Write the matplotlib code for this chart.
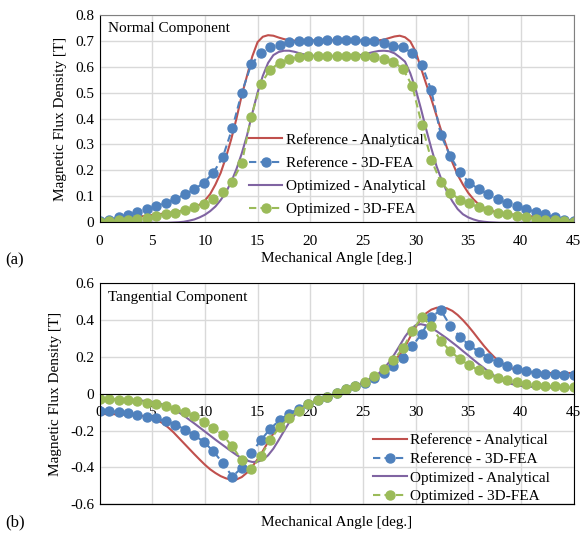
import numpy as np
import matplotlib
matplotlib.use("Agg")
import matplotlib.pyplot as plt
from matplotlib.ticker import FuncFormatter

plt.rcParams["font.family"] = ["Liberation Serif", "DejaVu Serif"]
plt.rcParams["font.size"] = 11
plt.rcParams["axes.unicode_minus"] = False

# -----------------------------
# Data
# -----------------------------
ang_an = np.linspace(0, 45, 91)    # analytical curves, 0.5 deg step
ang_fea = np.linspace(0, 45, 51)   # 3D-FEA points, 0.9 deg step

norm_ref_an = [
    0.006, 0.008, 0.010, 0.012, 0.014, 0.016, 0.018, 0.020, 0.022, 0.025,
    0.027, 0.030, 0.032, 0.035, 0.038, 0.041, 0.045, 0.050, 0.057, 0.067,
    0.083, 0.108, 0.145, 0.190, 0.250, 0.320, 0.400, 0.490, 0.565, 0.640,
    0.695, 0.716, 0.722, 0.720, 0.713, 0.707, 0.703, 0.701, 0.701, 0.701,
    0.702, 0.702, 0.703, 0.703, 0.703, 0.703, 0.703, 0.703, 0.702, 0.702,
    0.701, 0.701, 0.701, 0.702, 0.705, 0.711, 0.717, 0.720, 0.714, 0.698,
    0.660, 0.597, 0.535, 0.475, 0.410, 0.345, 0.285, 0.230, 0.182, 0.145,
    0.113, 0.088, 0.068, 0.055, 0.046, 0.040, 0.036, 0.033, 0.030, 0.028,
    0.026, 0.024, 0.022, 0.020, 0.018, 0.016, 0.014, 0.012, 0.010, 0.008,
    0.006]

norm_opt_an = [
    0.000, 0.000, 0.000, 0.000, 0.000, -0.001, -0.001, -0.002, -0.002, -0.003,
    -0.003, -0.003, -0.003, -0.003, -0.002, -0.001, 0.001, 0.005, 0.010, 0.018,
    0.028, 0.042, 0.060, 0.085, 0.115, 0.155, 0.205, 0.265, 0.335, 0.420,
    0.500, 0.565, 0.615, 0.645, 0.657, 0.662, 0.662, 0.658, 0.652, 0.647,
    0.644, 0.642, 0.641, 0.641, 0.641, 0.641, 0.641, 0.641, 0.642, 0.644,
    0.647, 0.652, 0.657, 0.661, 0.662, 0.660, 0.652, 0.637, 0.620, 0.575,
    0.515, 0.440, 0.360, 0.285, 0.215, 0.160, 0.116, 0.080, 0.050, 0.030,
    0.018, 0.010, 0.004, 0.001, -0.001, -0.002, -0.003, -0.003, -0.003, -0.003,
    -0.003, -0.002, -0.002, -0.001, -0.001, 0.000, 0.000, 0.000, 0.000, 0.000,
    0.000]

norm_ref_fea = [
    0.005, 0.008, 0.018, 0.028, 0.039, 0.049, 0.062, 0.075, 0.089, 0.107,
    0.126, 0.152, 0.190, 0.251, 0.362, 0.500, 0.609, 0.652, 0.676, 0.686,
    0.694, 0.698, 0.700, 0.701, 0.703, 0.703, 0.703, 0.702, 0.700, 0.698,
    0.692, 0.682, 0.676, 0.652, 0.608, 0.509, 0.337, 0.255, 0.192, 0.152,
    0.127, 0.107, 0.089, 0.075, 0.062, 0.049, 0.040, 0.030, 0.018, 0.008,
    0.005]

norm_opt_fea = [
    0.000, 0.005, 0.006, 0.009, 0.012, 0.017, 0.023, 0.030, 0.036, 0.045,
    0.057, 0.071, 0.088, 0.116, 0.156, 0.227, 0.407, 0.533, 0.589, 0.616,
    0.629, 0.637, 0.640, 0.642, 0.642, 0.643, 0.642, 0.642, 0.640, 0.637,
    0.631, 0.619, 0.592, 0.525, 0.375, 0.240, 0.154, 0.114, 0.086, 0.072,
    0.057, 0.045, 0.036, 0.030, 0.023, 0.018, 0.013, 0.009, 0.006, 0.004,
    0.000]

tang_ref_an = [
    -0.110, -0.110, -0.110, -0.111, -0.112, -0.113, -0.115, -0.117, -0.120, -0.124,
    -0.131, -0.143, -0.160, -0.182, -0.208, -0.238, -0.268, -0.298, -0.328, -0.357,
    -0.385, -0.410, -0.430, -0.447, -0.459, -0.466, -0.465, -0.452, -0.428, -0.395,
    -0.355, -0.310, -0.262, -0.215, -0.174, -0.140, -0.114, -0.095, -0.080, -0.066,
    -0.053, -0.041, -0.030, -0.019, -0.008, 0.003, 0.014, 0.025, 0.036, 0.048,
    0.060, 0.074, 0.090, 0.108, 0.128, 0.150, 0.178, 0.212, 0.255, 0.310,
    0.360, 0.405, 0.437, 0.457, 0.467, 0.469, 0.464, 0.450, 0.428, 0.400,
    0.368, 0.333, 0.296, 0.260, 0.227, 0.198, 0.174, 0.155, 0.141, 0.131,
    0.124, 0.119, 0.116, 0.114, 0.113, 0.113, 0.113, 0.113, 0.113, 0.113,
    0.113]

tang_opt_an = [
    -0.030, -0.030, -0.030, -0.031, -0.031, -0.032, -0.033, -0.035, -0.037, -0.040,
    -0.044, -0.050, -0.058, -0.069, -0.083, -0.100, -0.119, -0.140, -0.161, -0.183,
    -0.205, -0.227, -0.249, -0.270, -0.291, -0.312, -0.332, -0.350, -0.363, -0.370,
    -0.369, -0.358, -0.334, -0.298, -0.252, -0.203, -0.156, -0.117, -0.088, -0.067,
    -0.050, -0.038, -0.027, -0.017, -0.007, 0.003, 0.014, 0.025, 0.036, 0.048,
    0.060, 0.074, 0.090, 0.110, 0.137, 0.172, 0.215, 0.262, 0.310, 0.348,
    0.372, 0.378, 0.372, 0.358, 0.340, 0.320, 0.300, 0.278, 0.256, 0.232,
    0.209, 0.185, 0.162, 0.140, 0.118, 0.097, 0.079, 0.065, 0.055, 0.048,
    0.043, 0.040, 0.038, 0.036, 0.035, 0.034, 0.034, 0.033, 0.033, 0.033,
    0.033]

tang_ref_fea = [
    -0.094, -0.094, -0.098, -0.104, -0.113, -0.125, -0.134, -0.149, -0.167, -0.194,
    -0.225, -0.261, -0.312, -0.376, -0.449, -0.402, -0.322, -0.253, -0.190, -0.143,
    -0.107, -0.082, -0.058, -0.036, -0.018, 0.004, 0.024, 0.044, 0.060, 0.087,
    0.114, 0.151, 0.196, 0.260, 0.327, 0.418, 0.454, 0.369, 0.311, 0.263,
    0.229, 0.196, 0.173, 0.150, 0.136, 0.124, 0.114, 0.109, 0.105, 0.102,
    0.102]

tang_opt_fea = [
    -0.027, -0.029, -0.031, -0.034, -0.040, -0.049, -0.058, -0.067, -0.082, -0.100,
    -0.122, -0.153, -0.185, -0.225, -0.285, -0.361, -0.410, -0.340, -0.250, -0.180,
    -0.131, -0.094, -0.055, -0.036, -0.017, 0.004, 0.024, 0.044, 0.064, 0.096,
    0.133, 0.182, 0.247, 0.342, 0.416, 0.369, 0.287, 0.233, 0.187, 0.156,
    0.127, 0.105, 0.087, 0.073, 0.062, 0.054, 0.047, 0.044, 0.040, 0.038,
    0.036]

labels = ["Reference - Analytical", "Reference - 3D-FEA",
          "Optimized - Analytical", "Optimized - 3D-FEA"]
x_ticks = [0, 5, 10, 15, 20, 25, 30, 35, 40, 45]
norm_ticks = [0, 0.1, 0.2, 0.3, 0.4, 0.5, 0.6, 0.7, 0.8]
tang_ticks = [-0.6, -0.4, -0.2, 0, 0.2, 0.4, 0.6]

RED = "#C0504D"
BLUE = "#4F81BD"
PURPLE = "#8064A2"
GREEN = "#9BBB59"
GRID = "#D9D9D9"

fmt = FuncFormatter(lambda v, p: f"{round(v, 2):g}")


def draw_series(ax, ref_an, ref_fea, opt_an, opt_fea):
    ax.plot(ang_an, ref_an, color=RED, lw=1.5, label=labels[0])
    ax.plot(ang_fea, ref_fea, color=BLUE, lw=1.5, ls=(0, (3.5, 2)),
            marker="o", ms=6.5, mec=BLUE, label=labels[1])
    ax.plot(ang_an, opt_an, color=PURPLE, lw=1.5, label=labels[2])
    ax.plot(ang_fea, opt_fea, color=GREEN, lw=1.5, ls=(0, (3.5, 2)),
            marker="o", ms=6.5, mec=GREEN, label=labels[3])


def style_axes(ax):
    ax.set_xlim(0, 45)
    ax.set_xticks(x_ticks)
    ax.grid(True, color=GRID, lw=1.0)
    ax.set_axisbelow(True)
    ax.tick_params(axis="y", length=0, labelsize=11, pad=4)
    ax.tick_params(axis="x", length=0, labelsize=11, pad=9.5)
    ax.yaxis.set_major_formatter(fmt)


fig = plt.figure(figsize=(5.82, 5.36), dpi=100)

# -----------------------------
# (a) Normal component
# -----------------------------
ax1 = fig.add_axes([0.1711, 0.5858, 0.8143, 0.3862])
draw_series(ax1, norm_ref_an, norm_ref_fea, norm_opt_an, norm_opt_fea)
style_axes(ax1)
ax1.set_ylim(0, 0.8)
ax1.set_yticks(norm_ticks)
for side in ["top", "right"]:
    ax1.spines[side].set_color("#808080")
for side in ["left", "bottom"]:
    ax1.spines[side].set_color("black")
ax1.set_xlabel("Mechanical Angle [deg.]", fontsize=11, labelpad=3)
ax1.set_ylabel("Magnetic Flux Density [T]", fontsize=11, labelpad=6)
ax1.text(0.018, 0.965, "Normal Component", transform=ax1.transAxes,
         fontsize=11, va="top", ha="left")
ax1.legend(loc="upper left", bbox_to_anchor=(0.315, 0.43), frameon=False,
           fontsize=11, borderpad=0, borderaxespad=0, handlelength=2.2,
           handletextpad=0.25, labelspacing=0.62)

# -----------------------------
# (b) Tangential component
# -----------------------------
ax2 = fig.add_axes([0.1711, 0.0591, 0.8143, 0.4124])
draw_series(ax2, tang_ref_an, tang_ref_fea, tang_opt_an, tang_opt_fea)
style_axes(ax2)
ax2.set_ylim(-0.6, 0.6)
ax2.set_yticks(tang_ticks)
ax2.tick_params(axis="x", pad=8.5)
for side in ax2.spines:
    ax2.spines[side].set_color("black")
# horizontal axis crosses at zero, frame closed by a line at the bottom edge
ax2.spines["bottom"].set_position(("data", 0))
ax2.axhline(ax2.get_ylim()[0], color="black", lw=0.9, clip_on=False)
ax2.text(0.5, -0.08, "Mechanical Angle [deg.]", transform=ax2.transAxes,
         fontsize=11, ha="center", va="center")
ax2.set_ylabel("Magnetic Flux Density [T]", fontsize=11, labelpad=6)
ax2.text(0.018, 0.965, "Tangential Component", transform=ax2.transAxes,
         fontsize=11, va="top", ha="left")
ax2.legend(loc="upper left", bbox_to_anchor=(0.577, 0.321), frameon=False,
           fontsize=11, borderpad=0, borderaxespad=0, handlelength=2.2,
           handletextpad=0.25, labelspacing=0.33)

fig.text(0.009, 0.515, "(a)", fontsize=12, va="center", ha="left")
fig.text(0.009, 0.026, "(b)", fontsize=12, va="center", ha="left")

fig.savefig("out.png", dpi=100)
